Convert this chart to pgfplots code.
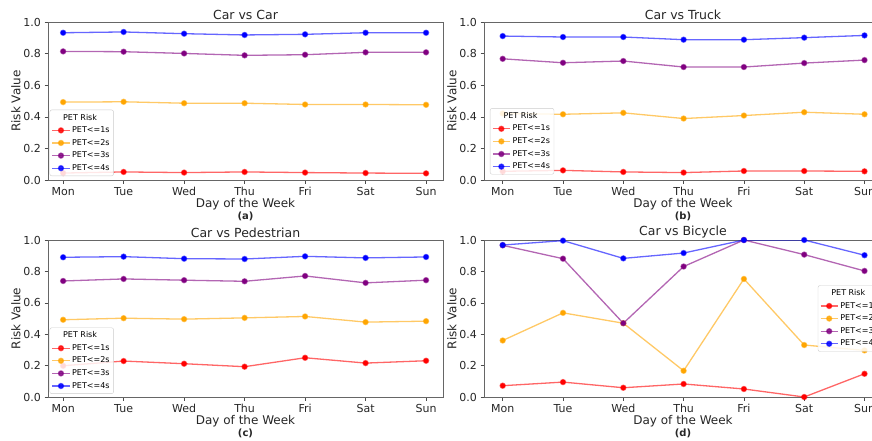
\documentclass[border=0pt]{standalone}
\usepackage{fontspec}
\setmainfont{DejaVu Sans}
\usepackage{pgfplots}
\pgfplotsset{compat=1.18}
\definecolor{mplorange}{RGB}{255,165,0}
\definecolor{mplpurple}{RGB}{128,0,128}
\definecolor{mplred}{RGB}{255,0,0}
\definecolor{mplblue}{RGB}{0,0,255}

\pgfplotsset{
 panel/.style={
   scale only axis,
   anchor=south west,
   ymin=0, ymax=1,
   xtick={0,1,2,3,4,5,6},
   xticklabels={Mon,Tue,Wed,Thu,Fri,Sat,Sun},
   ytick={0,0.2,0.4,0.6,0.8,1},
   yticklabel style={/pgf/number format/fixed,/pgf/number format/fixed zerofill,/pgf/number format/precision=1},
   /pgf/number format/assume math mode=true,
   tick align=outside, tick pos=left,
   major tick length=3.5pt,
   every tick/.style={black!70, line width=0.6pt},
   axis line style={black!60, line width=0.6pt},
   ticklabel style={font=\fontsize{11}{13}\selectfont, text=black!85},
   label style={font=\fontsize{12}{14}\selectfont, text=black!85},
   xlabel style={yshift=4pt},
   ylabel style={yshift=-4pt},
   title style={font=\fontsize{12.5}{14}\selectfont, text=black!85, at={(0.5,1)}, anchor=south, yshift=-5pt, inner sep=1pt},
   xlabel={Day of the Week},
   ylabel={Risk Value},
   legend cell align=left,
   legend style={font=\fontsize{8}{9.5}\selectfont, draw=black!20, rounded corners=2pt, fill=white, fill opacity=0.85, text opacity=1, draw opacity=1, row sep=1.2pt, inner sep=2pt},
   every axis plot/.append style={line width=1.3pt, draw opacity=0.6, mark=*, mark size=2.5pt, mark options={draw opacity=1, fill opacity=1}},
 },
}

\begin{document}
\begin{tikzpicture}
\path[use as bounding box] (0,0) rectangle (872pt,440pt);
\clip (0,0) rectangle (872pt,440pt);

% (a) Car vs Car
\begin{axis}[panel, at={(48pt,260pt)}, width=395pt, height=158pt, xmin=-0.25, xmax=6.28,
  title={Car vs Car},
  legend style={at={(axis description cs:0.004,0.025)}, anchor=south west}]
\addlegendimage{empty legend}\addlegendentry{\hspace{-9pt}PET Risk}
\addplot[mplred, mark options={fill=mplred}] coordinates {(0,0.044) (1,0.051) (2,0.047) (3,0.051) (4,0.047) (5,0.044) (6,0.042)};
\addlegendentry{PET<=1s}
\addplot[mplorange, mark options={fill=mplorange}] coordinates {(0,0.493) (1,0.495) (2,0.486) (3,0.486) (4,0.478) (5,0.478) (6,0.476)};
\addlegendentry{PET<=2s}
\addplot[mplpurple, mark options={fill=mplpurple}] coordinates {(0,0.814) (1,0.812) (2,0.801) (3,0.789) (4,0.793) (5,0.808) (6,0.808)};
\addlegendentry{PET<=3s}
\addplot[mplblue, mark options={fill=mplblue}] coordinates {(0,0.932) (1,0.937) (2,0.926) (3,0.918) (4,0.922) (5,0.932) (6,0.932)};
\addlegendentry{PET<=4s}
\end{axis}

% (b) Car vs Truck
\begin{axis}[panel, at={(484pt,260pt)}, width=398pt, height=158pt, xmin=-0.31, xmax=6.29,
  title={Car vs Truck},
  legend style={at={(axis description cs:0.015,0.035)}, anchor=south west}]
\addlegendimage{empty legend}\addlegendentry{\hspace{-9pt}PET Risk}
\addplot[mplred, mark options={fill=mplred}] coordinates {(0,0.055) (1,0.061) (2,0.051) (3,0.047) (4,0.057) (5,0.057) (6,0.055)};
\addlegendentry{PET<=1s}
\addplot[mplorange, mark options={fill=mplorange}] coordinates {(0,0.421) (1,0.416) (2,0.425) (3,0.389) (4,0.408) (5,0.429) (6,0.416)};
\addlegendentry{PET<=2s}
\addplot[mplpurple, mark options={fill=mplpurple}] coordinates {(0,0.767) (1,0.742) (2,0.753) (3,0.715) (4,0.715) (5,0.740) (6,0.759)};
\addlegendentry{PET<=3s}
\addplot[mplblue, mark options={fill=mplblue}] coordinates {(0,0.911) (1,0.905) (2,0.905) (3,0.888) (4,0.888) (5,0.901) (6,0.915)};
\addlegendentry{PET<=4s}
\end{axis}

% (c) Car vs Pedestrian
\begin{axis}[panel, at={(48pt,43pt)}, width=395pt, height=157pt, xmin=-0.25, xmax=6.28,
  title={Car vs Pedestrian},
  legend style={at={(axis description cs:0.004,0.02)}, anchor=south west}]
\addlegendimage{empty legend}\addlegendentry{\hspace{-9pt}PET Risk}
\addplot[mplred, mark options={fill=mplred}] coordinates {(0,0.199) (1,0.229) (2,0.212) (3,0.193) (4,0.250) (5,0.216) (6,0.231)};
\addlegendentry{PET<=1s}
\addplot[mplorange, mark options={fill=mplorange}] coordinates {(0,0.492) (1,0.502) (2,0.496) (3,0.504) (4,0.513) (5,0.477) (6,0.483)};
\addlegendentry{PET<=2s}
\addplot[mplpurple, mark options={fill=mplpurple}] coordinates {(0,0.739) (1,0.752) (2,0.744) (3,0.737) (4,0.771) (5,0.727) (6,0.744)};
\addlegendentry{PET<=3s}
\addplot[mplblue, mark options={fill=mplblue}] coordinates {(0,0.890) (1,0.894) (2,0.881) (3,0.879) (4,0.896) (5,0.886) (6,0.892)};
\addlegendentry{PET<=4s}
\end{axis}

% (d) Car vs Bicycle
\begin{axis}[panel, at={(484pt,43pt)}, width=398pt, height=157pt, xmin=-0.31, xmax=6.29,
  title={Car vs Bicycle},
  legend style={at={(axis description cs:1.0,0.5)}, anchor=east}]
\addlegendimage{empty legend}\addlegendentry{\hspace{-9pt}PET Risk}
\addplot[mplred, mark options={fill=mplred}] coordinates {(0,0.072) (1,0.095) (2,0.059) (3,0.083) (4,0.051) (5,0.0) (6,0.148)};
\addlegendentry{PET<=1s}
\addplot[mplorange, mark options={fill=mplorange}] coordinates {(0,0.360) (1,0.536) (2,0.470) (3,0.167) (4,0.752) (5,0.331) (6,0.297)};
\addlegendentry{PET<=2s}
\addplot[mplpurple, mark options={fill=mplpurple}] coordinates {(0,0.966) (1,0.881) (2,0.470) (3,0.831) (4,1.0) (5,0.907) (6,0.803)};
\addlegendentry{PET<=3s}
\addplot[mplblue, mark options={fill=mplblue}] coordinates {(0,0.968) (1,0.996) (2,0.883) (3,0.917) (4,1.0) (5,1.0) (6,0.903)};
\addlegendentry{PET<=4s}
\end{axis}

\node[font=\bfseries\fontsize{10}{12}\selectfont, text=black!85] at (245.5pt,224pt) {(a)};
\node[font=\bfseries\fontsize{10}{12}\selectfont, text=black!85] at (683pt,224pt) {(b)};
\node[font=\bfseries\fontsize{10}{12}\selectfont, text=black!85] at (245.5pt,7pt) {(c)};
\node[font=\bfseries\fontsize{10}{12}\selectfont, text=black!85] at (683pt,7pt) {(d)};
\end{tikzpicture}
\end{document}
